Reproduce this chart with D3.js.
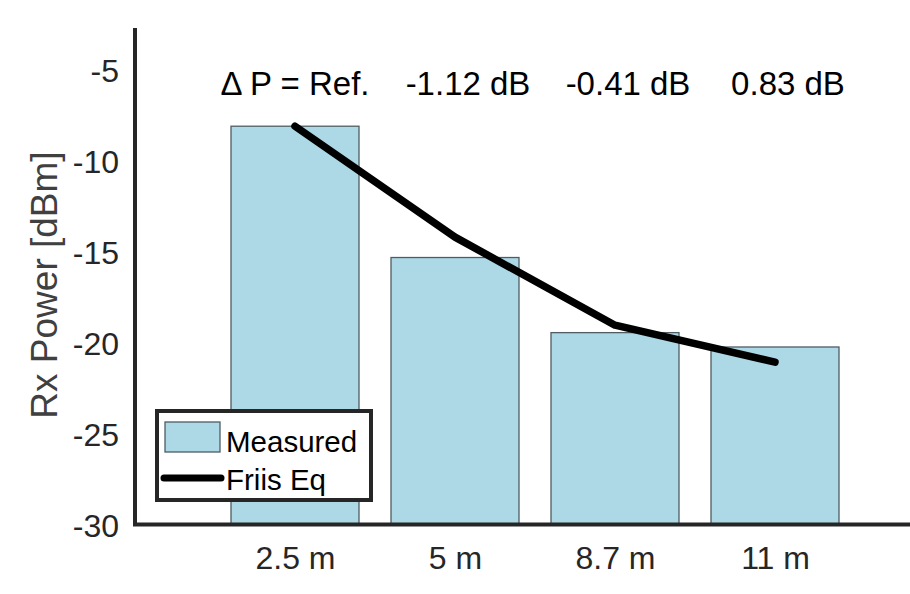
<!DOCTYPE html>
<html>
<head>
<meta charset="utf-8">
<script src="https://cdn.jsdelivr.net/npm/d3@7"></script>
<style>
  html, body { margin: 0; padding: 0; background: #fff; }
  svg { display: block; font-family: "Liberation Sans", Arial, sans-serif; }
</style>
</head>
<body>
<svg id="chart" width="910" height="594"></svg>
<script>
// Received power at each distance
const distances = ["2.5 m", "5 m", "8.7 m", "11 m"];
const measured = [-8.1, -15.32, -19.45, -20.24];
const friis = [-8.1, -14.2, -19.04, -21.07];
const deltaLabels = ["\u0394 P = Ref.", "-1.12 dB", "-0.41 dB", "0.83 dB"];
const yTicks = [-30, -25, -20, -15, -10, -5];

const svg = d3.select("#chart");
const axisColor = "#262626";

// x: bar positions 1..4 on a continuous axis from 0 to 5
const x = d3.scaleLinear().domain([0, 5]).range([135, 935]);
const y = d3.scaleLinear().domain([-30, -2.7]).range([524.5, 28]);
const barWidth = 0.8;

// Bars
svg.append("g").selectAll("rect")
  .data(measured)
  .join("rect")
  .attr("x", (d, i) => x(i + 1 - barWidth / 2))
  .attr("width", x(barWidth) - x(0))
  .attr("y", d => y(d))
  .attr("height", d => y(-30) - y(d))
  .attr("fill", "#add8e6")
  .attr("stroke", "#4f5d63")
  .attr("stroke-width", 1.3);

// Friis equation line
const line = d3.line()
  .x((d, i) => x(i + 1))
  .y(d => y(d));
svg.append("path")
  .datum(friis)
  .attr("d", line)
  .attr("fill", "none")
  .attr("stroke", "#000")
  .attr("stroke-width", 7.5)
  .attr("stroke-linecap", "round")
  .attr("stroke-linejoin", "round");

// Y axis (labels only, no tick marks), plain hyphen for negatives
const yAxis = d3.axisLeft(y)
  .tickValues(yTicks)
  .tickFormat(d => String(d))
  .tickSize(0)
  .tickPadding(16);
const gy = svg.append("g").attr("transform", "translate(135,0)").call(yAxis);
gy.select(".domain").remove();
gy.selectAll("text")
  .attr("font-size", 32)
  .attr("fill", axisColor)
  .attr("font-family", "Liberation Sans, Arial, sans-serif")
  .attr("dy", "0.36em");

// X axis labels
const xAxis = d3.axisBottom(x)
  .tickValues([1, 2, 3, 4])
  .tickFormat((d, i) => distances[i])
  .tickSize(0)
  .tickPadding(22);
const gx = svg.append("g").attr("transform", `translate(0,${y(-30)})`).call(xAxis);
gx.select(".domain").remove();
gx.selectAll("text")
  .attr("font-size", 32)
  .attr("fill", axisColor)
  .attr("font-family", "Liberation Sans, Arial, sans-serif");

// Axis lines
svg.append("path")
  .attr("d", `M${x(0)},${y(-2.7)}V${y(-30)}H${x(5)}`)
  .attr("fill", "none")
  .attr("stroke", axisColor)
  .attr("stroke-width", 4)
  .attr("stroke-linejoin", "miter");

// Power difference annotations
const deltaOffset = [0, 13, 13, 13];
svg.append("g").selectAll("text")
  .data(deltaLabels)
  .join("text")
  .attr("x", (d, i) => x(i + 1) + deltaOffset[i])
  .attr("y", 95)
  .attr("text-anchor", "middle")
  .attr("font-size", 33)
  .attr("fill", "#000")
  .text(d => d);

// Y axis title
svg.append("text")
  .attr("transform", `translate(57,${285}) rotate(-90)`)
  .attr("text-anchor", "middle")
  .attr("font-size", 37)
  .attr("fill", "#404040")
  .text("Rx Power [dBm]");

// Legend
const lg = svg.append("g");
lg.append("rect")
  .attr("x", 157).attr("y", 411)
  .attr("width", 214).attr("height", 89)
  .attr("fill", "#fff")
  .attr("stroke", axisColor)
  .attr("stroke-width", 4);
lg.append("rect")
  .attr("x", 165).attr("y", 422)
  .attr("width", 55).attr("height", 30)
  .attr("fill", "#add8e6")
  .attr("stroke", "#4f5d63")
  .attr("stroke-width", 1.3);
lg.append("line")
  .attr("x1", 164).attr("x2", 221)
  .attr("y1", 478).attr("y2", 478)
  .attr("stroke", "#000")
  .attr("stroke-width", 7)
  .attr("stroke-linecap", "round");
lg.selectAll("text.lbl")
  .data(["Measured", "Friis Eq"])
  .join("text")
  .attr("class", "lbl")
  .attr("x", 226)
  .attr("y", (d, i) => [441, 479][i])
  .attr("dy", "0.36em")
  .attr("font-size", 29.5)
  .attr("fill", "#000")
  .text(d => d);
</script>
</body>
</html>
